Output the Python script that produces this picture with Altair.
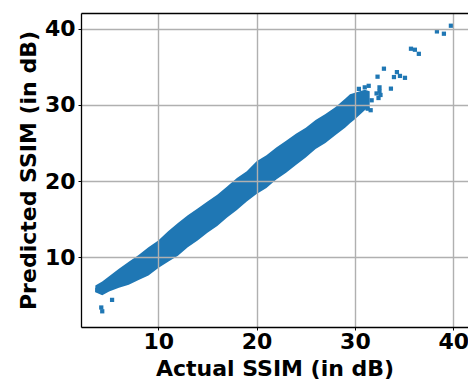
import altair as alt
import pandas as pd

# Dense band of points: actual value, lower and upper predicted edge
band_actual = [3.6, 4.3, 5.0, 6.0, 7.0, 8.0, 9.0, 10.0, 11.0, 12.0, 13.0, 14.0, 15.0,
               16.0, 17.0, 18.0, 19.0, 20.0, 21.0, 22.0, 23.0, 24.0, 25.0, 26.0, 27.0,
               28.0, 29.0, 29.5, 30.0, 30.5, 31.0, 31.5]
band_low = [5.4, 5.0, 5.5, 6.0, 6.4, 7.0, 7.6, 8.6, 9.4, 10.2, 11.3, 12.2, 13.2,
            14.1, 15.2, 16.2, 17.3, 18.3, 19.1, 20.2, 21.1, 22.1, 23.1, 24.2, 25.0,
            26.0, 27.0, 27.6, 28.1, 28.7, 29.3, 29.8]
band_high = [6.3, 6.8, 7.5, 8.5, 9.4, 10.3, 11.3, 12.2, 13.4, 14.5, 15.5, 16.4, 17.3,
             18.2, 19.3, 20.4, 21.3, 22.6, 23.4, 24.4, 25.3, 26.2, 27.0, 28.0, 28.8,
             29.7, 30.8, 31.4, 31.6, 31.8, 32.0, 31.8]

# Isolated points away from the band
outlier_actual = [4.2, 4.3, 5.3, 3.8, 31.4, 32.5, 32.5, 32.3, 32.95, 33.66, 34.27,
                  33.97, 34.58, 35.09, 35.7, 36.1, 36.5, 38.34, 39.05, 39.76,
                  31.0, 31.3, 31.6, 32.2, 32.4, 32.6, 31.7, 30.4]
outlier_pred = [3.4, 2.9, 4.4, 5.7, 32.5, 32.3, 31.8, 33.7, 34.75, 32.13, 34.3,
                33.65, 33.8, 33.55, 37.37, 37.24, 36.7, 39.64, 39.34, 40.39,
                32.3, 29.5, 29.3, 31.5, 30.9, 31.3, 30.6, 32.1]

tick_values = [10, 20, 30, 40]

band = pd.DataFrame({"actual": band_actual, "low": band_low, "high": band_high})
pts = pd.DataFrame({"actual": outlier_actual, "pred": outlier_pred})

FONT = "DejaVu Sans"
BLUE = "#1f77b4"

xscale = alt.Scale(domain=[2.14, 41.5], nice=False, zero=False)
yscale = alt.Scale(domain=[0.84, 42.06], nice=False, zero=False)

common = dict(
    labelFont=FONT, labelFontWeight="bold", labelFontSize=22, labelColor="black",
    titleFont=FONT, titleFontWeight="bold", titleFontSize=22, titleColor="black",
    grid=True, gridColor="#b0b0b0", gridWidth=1.4,
    tickColor="black", tickSize=3, tickWidth=1,
    domainColor="black", domainWidth=1.3,
    values=tick_values, labelOverlap=False, labelFlush=False, zindex=1,
)

xaxis = alt.Axis(orient="bottom", title="Actual SSIM (in dB)", labelPadding=1,
                 titleY=48, titleBaseline="alphabetic", **common)
yaxis = alt.Axis(orient="left", title="Predicted SSIM (in dB)", labelPadding=3,
                 titleX=-53, titleBaseline="middle", titleAngle=270, **common)
xaxis_top = alt.Axis(orient="top", title=None, labels=False, ticks=False, grid=False,
                     domainColor="black", domainWidth=1.3, zindex=1)

area = alt.Chart(band).mark_area(color=BLUE, opacity=1).encode(
    x=alt.X("actual:Q", scale=xscale, axis=xaxis),
    y=alt.Y("low:Q", scale=yscale, axis=yaxis),
    y2="high:Q",
)

points = alt.Chart(pts).mark_square(color=BLUE, opacity=1, size=18).encode(
    x=alt.X("actual:Q", scale=xscale, axis=xaxis_top),
    y=alt.Y("pred:Q", scale=yscale, axis=yaxis),
)

chart = alt.layer(area, points).properties(
    width=387, height=314,
    autosize=alt.AutoSizeParams(type="none"),
    padding={"left": 81, "top": 13, "right": 0, "bottom": 54},
).configure_view(stroke=None).configure(background="white")

chart.save("out.html", embed_options={"renderer": "svg", "actions": False})
